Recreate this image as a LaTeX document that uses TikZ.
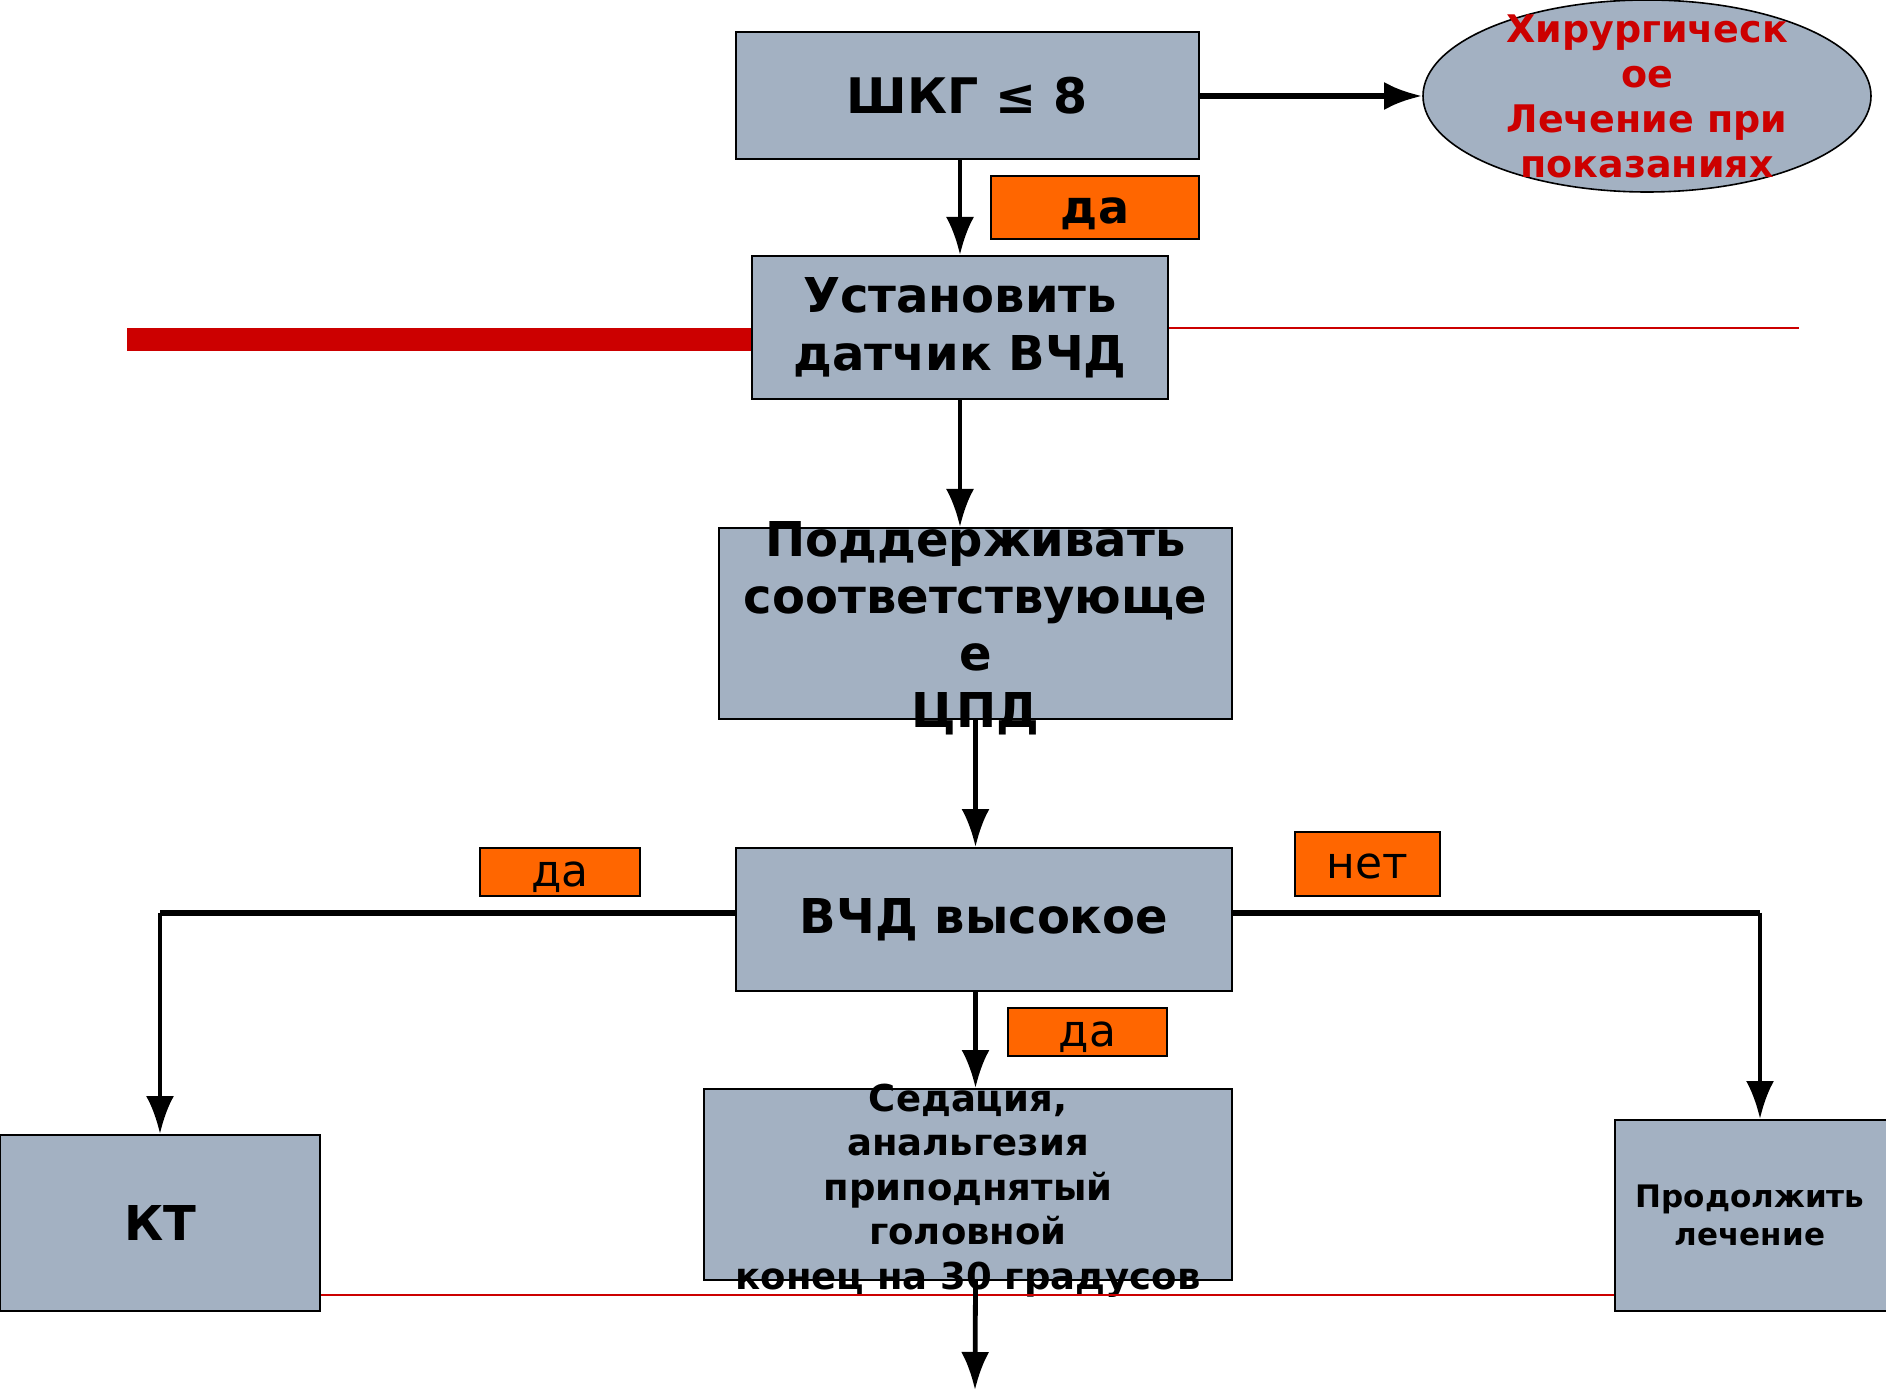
\documentclass[tikz,border=0pt]{standalone}
\usepackage{fontspec}
\setmainfont{DejaVu Sans}
\usetikzlibrary{arrows.meta,shapes.geometric,calc}
\definecolor{boxfill}{RGB}{163,177,194}
\definecolor{tagorange}{RGB}{255,102,0}
\definecolor{linered}{RGB}{204,0,0}
\tikzset{
  box/.style={draw=black,line width=1pt,fill=boxfill,inner sep=0pt,align=center,font=\bfseries\fontsize{24}{29}\selectfont},
  tag/.style={draw=black,line width=1pt,fill=tagorange,inner sep=0pt,align=center,font=\fontsize{22}{26}\selectfont,text depth=0pt},
  txt/.style={inner sep=0pt,align=center},
  arr/.style={line width=2.4pt,-{Latex[length=19pt,width=14pt]}},
  thickline/.style={line width=3pt},
  redthin/.style={draw=linered,line width=1pt},
}
\begin{document}
\begin{tikzpicture}[x=0.5pt,y=-0.5pt]
\useasboundingbox (0,0) rectangle (1886,1390);
% nodes
\node[box,minimum width=231.5pt,minimum height=63.5pt,font=\bfseries\fontsize{24.5}{30}\selectfont] (shkg) at (967.5,95.5) {ШКГ ≤ 8};
\node[draw=black,line width=0.8pt,fill=boxfill,ellipse,minimum width=224pt,minimum height=96pt,inner sep=0pt] (ell) at (1647,96) {};
\node[txt,text=linered,font=\bfseries\fontsize{19}{22.5}\selectfont] at (ell) {Хирургическ\\ое\\Лечение при\\показаниях};
\node[tag,minimum width=104pt,minimum height=31.5pt,font=\bfseries\fontsize{23}{26}\selectfont,text height=16.5pt] (da1) at (1095,207.5) {да};
\node[box,minimum width=208pt,minimum height=71.5pt] (ust) at (960,327.5) {Установить\\датчик ВЧД};
\node[box,minimum width=256.5pt,minimum height=95.5pt] (pod) at (975.5,623.5) {};
\node[txt,font=\bfseries\fontsize{24}{28.5}\selectfont,yshift=-2.5pt] at (pod) {Поддерживать\\соответствующе\\е\\ЦПД};
\node[box,minimum width=248pt,minimum height=71.5pt] (vchd) at (984,919.5) {ВЧД высокое};
\node[tag,minimum width=80pt,minimum height=24pt,text height=14pt] (da2) at (560,872) {да};
\node[tag,minimum width=72.5pt,minimum height=32pt,text height=14pt] (net) at (1367.5,864) {нет};
\node[tag,minimum width=79.5pt,minimum height=24pt,text height=14pt] (da3) at (1087.5,1032) {да};
\node[box,minimum width=264pt,minimum height=95.5pt] (sed) at (968,1184.5) {};
\node[txt,font=\bfseries\fontsize{18.5}{22.3}\selectfont,yshift=-3pt] at (sed) {Седация,\\анальгезия\\приподнятый\\головной\\конец на 30 градусов};
\node[box,minimum width=160pt,minimum height=88pt] (kt) at (160,1223) {КТ};
\node[box,minimum width=145pt,minimum height=95.5pt,font=\bfseries\fontsize{15.5}{19}\selectfont] (prod) at (1760,1215.5) {\hspace*{-10pt}Продолжить\\\hspace*{-10pt}лечение};
\coordinate (endpt) at (975,1390);
\coordinate (redend) at (1799,328);
\coordinate (barstart) at (127,339.5);
% red lines
\draw[line width=11.5pt,linered] (barstart) -- ([yshift=-6pt]ust.west);
\draw[redthin] ([yshift=-0.25pt]ust.east) -- (redend);
\draw[redthin] ([yshift=-36pt]kt.east) -- ([yshift=-36pt]kt.east -| prod.west);
% connectors
\draw[thickline,-{Latex[length=19pt,width=14pt]}] (shkg.east |- ell.west) -- (ell.west);
\draw[arr] (ust.north |- shkg.south) -- (ust.north);
\draw[arr] (ust.south) -- (ust.south |- pod.north);
\draw[arr] (pod.south) -- (pod.south |- vchd.north);
\draw[arr] (vchd.south -| pod.south) -- (sed.north -| pod.south);
\draw[arr] (sed.south -| pod.south) -- (endpt);
\draw[thickline] ([yshift=3.5pt]vchd.west) -- ([yshift=3.5pt]vchd.west -| kt.north) coordinate (lc);
\draw[arr] (lc) -- (kt.north);
\draw[thickline] ([yshift=3.5pt]vchd.east) -- ([yshift=3.5pt]vchd.east -| prod.north) coordinate (rc);
\draw[arr] (rc) -- (prod.north);
\end{tikzpicture}
\end{document}
